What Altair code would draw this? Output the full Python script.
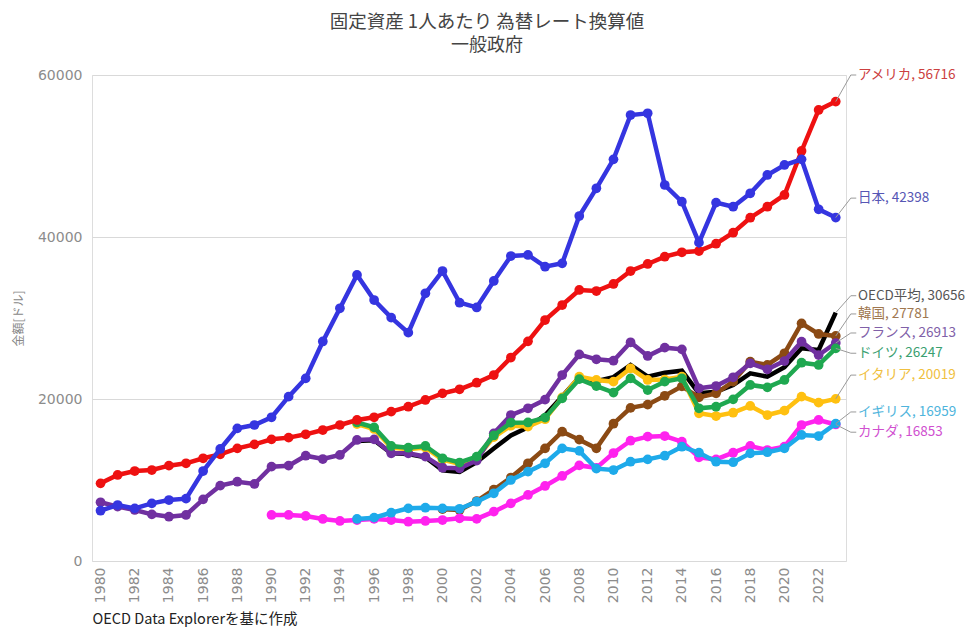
import altair as alt
import pandas as pd

# ---------------- data ----------------
countries = ["OECD平均", "韓国", "イタリア", "フランス", "ドイツ", "カナダ", "イギリス", "アメリカ", "日本"]
start_years = [1995, 2000, 1995, 1980, 1995, 1990, 1995, 1980, 1980]

oecd = [14800, 14900, 13300, 13200, 12800, 11200, 11000, 12200, 13900, 15500,
        16500, 18000, 20300, 22700, 22200, 22700, 24200, 22750, 23250, 23500,
        20700, 20900, 21730, 23170, 22750, 23910, 26260, 26050, 30656]
korea = [6400, 6300, 7400, 8800, 10300, 12060, 13910, 15960, 14980, 13910,
         16950, 18900, 19300, 20400, 21560, 20210, 20700, 22140, 24610, 24200,
         25640, 29340, 28030, 27781]
italy = [16900, 16300, 14000, 13800, 14000, 12500, 12000, 12700, 15300, 16700,
         16600, 17500, 20200, 22750, 22350, 22140, 23790, 22350, 22400, 22750,
         18230, 17900, 18310, 19140, 18020, 18560, 20290, 19550, 20019]
france = [7250, 6710, 6300, 5760, 5470, 5680, 7610, 9300, 9790, 9510,
          11650, 11770, 13000, 12590, 13090, 14940, 15020, 13290, 13290, 12880,
          11520, 11440, 12400, 15760, 18020, 18850, 19920, 22960, 25500, 24900,
          24730, 27000, 25310, 26340, 26130, 21320, 21600, 22680, 24410, 23660,
          24690, 27080, 25430, 26913]
germany = [17100, 16500, 14200, 13990, 14200, 12680, 12160, 12880, 15500, 17080,
           17100, 17700, 20080, 22450, 21600, 20800, 22550, 21110, 22140, 22550,
           18850, 19050, 19960, 21730, 21440, 22350, 24480, 24200, 26247]
canada = [5680, 5680, 5560, 5190, 4940, 5060, 5200, 5060, 4850, 4940,
          5060, 5270, 5200, 6090, 7120, 8150, 9260, 10500, 11800, 11500,
          13330, 14850, 15350, 15430, 14730, 12800, 12550, 13370, 14200, 13700,
          14110, 16790, 17410, 16853]
uk = [5190, 5350, 5960, 6500, 6580, 6500, 6450, 7320, 8360, 10000,
      11030, 12060, 13910, 13600, 11400, 11230, 12260, 12550, 13000, 14110,
      13370, 12260, 12200, 13290, 13430, 13910, 15560, 15430, 16959]
usa = [9590, 10620, 11110, 11230, 11770, 12060, 12680, 13170, 13910, 14400,
       15020, 15230, 15640, 16170, 16790, 17410, 17740, 18440, 19050, 19880,
       20700, 21200, 22010, 22960, 25120, 27120, 29750, 31600, 33460, 33330,
       34200, 35800, 36670, 37570, 38110, 38270, 39170, 40530, 42380, 43740,
       45190, 50620, 55680, 56716]
japan = [6210, 6910, 6500, 7120, 7530, 7700, 11110, 13830, 16380, 16790,
         17740, 20290, 22550, 27100, 31200, 35310, 32220, 30040, 28190, 33050,
         35800, 31890, 31300, 34570, 37650, 37780, 36330, 36750, 42590, 46010,
         49590, 55060, 55270, 46420, 44360, 39300, 44240, 43740, 45400, 47660,
         48890, 49590, 43420, 42398]

series_values = [oecd, korea, italy, france, germany, canada, uk, usa, japan]
x_ticks = list(range(1980, 2023, 2))
y_ticks = [0, 20000, 40000, 60000]

# ---------------- styling ----------------
line_colors = ["#000000", "#8b4a14", "#ffc010", "#7030a0", "#1fa850",
               "#ff22ee", "#1eaaea", "#ee1111", "#3535e0"]
label_colors = ["#555555", "#a07850", "#f0c040", "#8060a8", "#3aa070",
                "#d050d0", "#4eb4dc", "#cc4040", "#5656b4"]
has_points = [False, True, True, True, True, True, True, True, True]
# vertical anchor of each end label (annotation layout, in axis units)
label_anchor = [32750, 30500, 22950, 28150, 25650, 15900, 18400, 60000, 44800]

FONT = "Noto Sans CJK JP"
NUMFONT = "DejaVu Sans"

rows = []
for name, start, vals in zip(countries, start_years, series_values):
    for i, v in enumerate(vals):
        rows.append({"country": name, "year": start + i, "value": v})
df = pd.DataFrame(rows)

lead_rows, text_rows = [], []
for name, vals, ly, col in zip(countries, series_values, label_anchor, label_colors):
    last_year = 2023
    lead_rows += [
        {"country": name, "seq": 0, "x": last_year, "y": vals[-1]},
        {"country": name, "seq": 1, "x": last_year + 0.88, "y": ly},
        {"country": name, "seq": 2, "x": last_year + 1.2, "y": ly},
    ]
    text_rows.append({"country": name, "x": last_year + 1.3, "y": ly,
                      "label": f"{name}, {vals[-1]}", "color": col})
lead_df = pd.DataFrame(lead_rows)
text_df = pd.DataFrame(text_rows)

x_scale = alt.Scale(domain=[1979.5, 2023.6], nice=False, zero=False)
y_scale = alt.Scale(domain=[0, 60000], nice=False)

x_axis = alt.Axis(values=x_ticks, format="d", labelAngle=270, labelOverlap=False,
                  grid=False, domain=False, ticks=False,
                  labelColor="#8c8c8c", labelFontSize=14, labelPadding=6,
                  labelFont=NUMFONT,
                  title="OECD Data Explorerを基に作成",
                  titleAnchor="start", titleAlign="left",
                  titleColor="#222222", titleFontSize=14.5,
                  titleFontWeight="normal", titleFont=FONT,
                  titlePadding=10)
y_axis = alt.Axis(values=y_ticks, format="d", grid=True,
                  gridColor="#d9d9d9", domain=False, ticks=False,
                  labelColor="#8c8c8c", labelFontSize=14, labelPadding=10,
                  labelFont=NUMFONT,
                  title="金額[ドル]", titleColor="#888888",
                  titleFontSize=12, titleFontWeight="normal",
                  titleFont=FONT, titlePadding=12)

x_enc = alt.X("year:Q", scale=x_scale, axis=x_axis)
y_enc = alt.Y("value:Q", scale=y_scale, axis=y_axis)

layers = []
for name, col, pts in zip(countries, line_colors, has_points):
    base = alt.Chart(df).transform_filter(alt.datum.country == name)
    layers.append(base.mark_line(color=col, strokeWidth=4.5).encode(x=x_enc, y=y_enc))
    if pts:
        layers.append(base.mark_circle(color=col, size=95, opacity=1).encode(x=x_enc, y=y_enc))

leaders = alt.Chart(lead_df).mark_line(color="#9a9a9a", strokeWidth=1).encode(
    x=alt.X("x:Q", scale=x_scale, axis=x_axis),
    y=alt.Y("y:Q", scale=y_scale, axis=y_axis),
    detail="country:N",
    order="seq:O",
)
labels = alt.Chart(text_df).mark_text(align="left", baseline="middle",
                                      fontSize=13.5, font=FONT).encode(
    x=alt.X("x:Q", scale=x_scale, axis=x_axis),
    y=alt.Y("y:Q", scale=y_scale, axis=y_axis),
    text="label:N",
    color=alt.Color("color:N", scale=None),
)

chart = alt.layer(*layers, leaders, labels).properties(
    width=754,
    height=486,
    autosize=alt.AutoSizeParams(type="none"),
    padding={"left": 84, "top": 67, "right": 120, "bottom": 66},
    title=alt.Title(
        text="固定資産 1人あたり 為替レート換算値",
        subtitle="一般政府",
        fontSize=18.5, subtitleFontSize=18,
        color="#444444", subtitleColor="#444444",
        fontWeight="normal", font=FONT, subtitleFont=FONT,
        anchor="middle", frame="group", dx=18, offset=13, subtitlePadding=6,
    ),
).configure_view(stroke=None).configure(background="white")

chart.save("out.html", embed_options={"renderer": "svg", "actions": False})
